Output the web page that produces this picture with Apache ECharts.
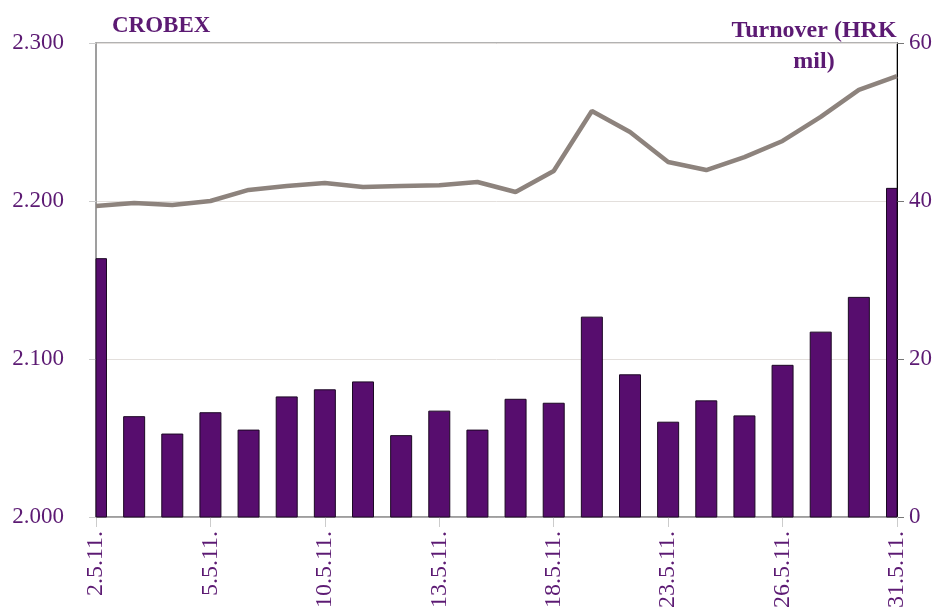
<!DOCTYPE html>
<html>
<head>
<meta charset="utf-8">
<script src="https://cdn.jsdelivr.net/npm/echarts@6/dist/echarts.min.js"></script>
<style>
html, body { margin: 0; padding: 0; background: #fff; }
#main { width: 947px; height: 613px; }
</style>
</head>
<body>
<div id="main"></div>
<script>
// dani trgovanja, svibanj 2011.
var days = ['2.5.11.', '3.5.11.', '4.5.11.', '5.5.11.', '6.5.11.', '9.5.11.', '10.5.11.', '11.5.11.',
	'12.5.11.', '13.5.11.', '16.5.11.', '17.5.11.', '18.5.11.', '19.5.11.', '20.5.11.', '23.5.11.',
	'24.5.11.', '25.5.11.', '26.5.11.', '27.5.11.', '30.5.11.', '31.5.11.'];
// promet (HRK mil)
var turnover = [32.7, 12.7, 10.5, 13.2, 11.0, 15.2, 16.1, 17.1, 10.3, 13.4, 11.0,
	14.9, 14.4, 25.3, 18.0, 12.0, 14.7, 12.8, 19.2, 23.4, 27.8, 41.6];
// CROBEX
var crobex = [2196.8, 2198.7, 2197.5, 2200.0, 2207.0, 2209.5, 2211.4, 2208.9, 2209.5, 2210.0, 2212.0,
	2205.7, 2219.0, 2257.0, 2243.7, 2224.7, 2219.6, 2227.8, 2238.0, 2253.2, 2270.3, 2279.0];
var leftTicks = [2000, 2100, 2200, 2300];
var rightTicks = [0, 20, 40, 60];

var purple = '#5c1a73';
var font = '"Liberation Serif", "DejaVu Serif", serif';

// stupci se režu na rub grafa (prvi i zadnji su napola)
function renderBar(params, api) {
	var top = api.coord([api.value(0), api.value(1)]);
	var base = api.coord([api.value(0), 0]);
	var w = 21;
	var cs = params.coordSys;
	var shape = echarts.graphic.clipRectByRect({
		x: top[0] - w / 2,
		y: top[1],
		width: w,
		height: base[1] - top[1]
	}, { x: cs.x, y: cs.y, width: cs.width, height: cs.height });
	return shape && {
		type: 'rect',
		shape: shape,
		style: { fill: '#570d6e', stroke: '#1c0824', lineWidth: 1 }
	};
}

var chart = echarts.init(document.getElementById('main'));
chart.setOption({
	animation: false,
	textStyle: { fontFamily: font },
	graphic: [{
		type: 'text',
		left: 112,
		top: 15,
		style: { text: 'CROBEX', font: 'bold 23px ' + font, fill: purple }
	}, {
		type: 'text',
		x: 814,
		y: 15,
		style: {
			text: 'Turnover (HRK\nmil)',
			font: 'bold 24px ' + font,
			fill: purple,
			align: 'center',
			lineHeight: 31
		}
	}],
	grid: {
		left: 96,
		right: 50,
		top: 43,
		bottom: 96,
		show: true,
		borderColor: '#999',
		borderWidth: 1.5,
		backgroundColor: 'transparent'
	},
	xAxis: {
		type: 'category',
		data: days,
		boundaryGap: false,
		axisLine: { lineStyle: { color: '#999', width: 1.5 } },
		axisTick: { interval: 2, length: 10, lineStyle: { color: '#ccc' } },
		axisLabel: {
			interval: 2,
			rotate: 90,
			margin: 14,
			fontSize: 24,
			fontFamily: font,
			color: purple
		},
		splitLine: { show: false }
	},
	yAxis: [{
		type: 'value',
		min: leftTicks[0],
		max: leftTicks[leftTicks.length - 1],
		interval: 100,
		axisLine: { show: true, lineStyle: { color: '#999', width: 1.5 } },
		axisTick: { show: true, length: 7, lineStyle: { color: '#ccc' } },
		axisLabel: {
			margin: 32,
			fontSize: 23,
			fontFamily: font,
			color: purple,
			formatter: function(v) {
				return (v / 1000).toFixed(3);
			}
		},
		splitLine: { show: true, lineStyle: { color: '#e3dfdc', width: 1 } }
	}, {
		type: 'value',
		min: rightTicks[0],
		max: rightTicks[rightTicks.length - 1],
		interval: 20,
		position: 'right',
		axisLine: { show: true, lineStyle: { color: '#000', width: 1 } },
		axisTick: { show: true, length: 7, lineStyle: { color: '#777' } },
		axisLabel: {
			margin: 12,
			fontSize: 23,
			fontFamily: font,
			color: purple
		},
		splitLine: { show: false }
	}],
	series: [{
		name: 'Turnover',
		type: 'custom',
		yAxisIndex: 1,
		renderItem: renderBar,
		encode: { x: 0, y: 1 },
		data: turnover.map(function(v, i) { return [i, v]; }),
		z: 2
	}, {
		name: 'CROBEX',
		type: 'line',
		yAxisIndex: 0,
		data: crobex,
		symbol: 'none',
		z: 3,
		lineStyle: { color: '#8d837d', width: 4.5 }
	}]
});
</script>
</body>
</html>
